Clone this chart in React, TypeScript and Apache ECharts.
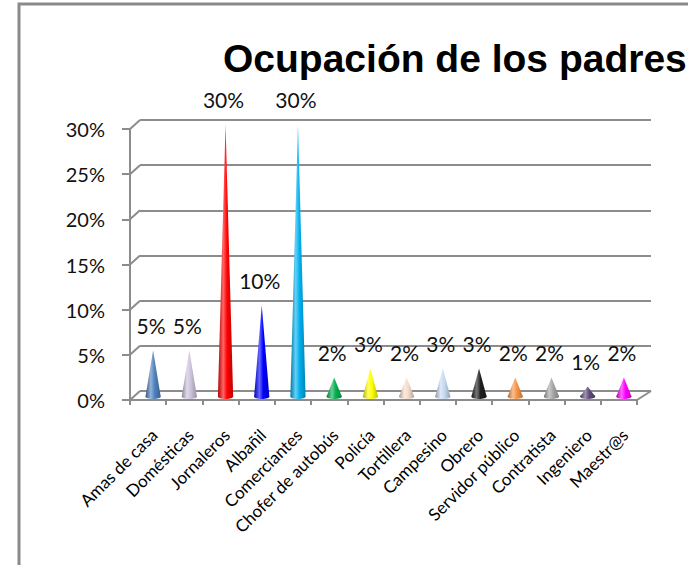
import React, { useEffect, useRef } from "react";
import * as echarts from "echarts";

const titleText = "Ocupación de los padres";
const categories = [
  "Amas de casa",
  "Domésticas",
  "Jornaleros",
  "Albañil",
  "Comerciantes",
  "Chofer de autobús",
  "Policía",
  "Tortillera",
  "Campesino",
  "Obrero",
  "Servidor público",
  "Contratista",
  "Ingeniero",
  "Maestr@s",
];
const values = [5, 5, 30, 10, 30, 2, 3, 2, 3, 3, 2, 2, 1, 2];
const coneColors = [
  "#4f81bd",
  "#ccc1da",
  "#ff0000",
  "#0000ff",
  "#00b0f0",
  "#00b050",
  "#ffff00",
  "#f5dccb",
  "#c6d9f1",
  "#1e1e1e",
  "#f79646",
  "#a6a6a6",
  "#604a7b",
  "#ff00ff",
];
const yTicks = [0, 5, 10, 15, 20, 25, 30];

const DX = 10;
const DY = -9;
const GRID_COLOR = "#8c8c8c";

function mix(hex: string, target: number, t: number): string {
  const h = hex.replace("#", "");
  const r = parseInt(h.slice(0, 2), 16);
  const g = parseInt(h.slice(2, 4), 16);
  const b = parseInt(h.slice(4, 6), 16);
  const f = (c: number) => Math.round(c + (target - c) * t);
  return `rgb(${f(r)},${f(g)},${f(b)})`;
}

function coneFill(color: string) {
  return new echarts.graphic.LinearGradient(0, 0, 1, 0, [
    { offset: 0, color: mix(color, 0, 0.3) },
    { offset: 0.35, color: mix(color, 255, 0.4) },
    { offset: 0.6, color: color },
    { offset: 1, color: mix(color, 0, 0.25) },
  ]);
}

export default function App() {
  const ref = useRef<HTMLDivElement>(null);

  useEffect(() => {
    if (!ref.current) return;
    const chart = echarts.init(ref.current, null, { renderer: "svg" });

    const option: any = {
      animation: false,
      backgroundColor: "#ffffff",
      title: {
        text: titleText,
        left: 218,
        top: 34,
        textStyle: {
          fontSize: 39,
          fontWeight: "bold",
          fontFamily: "Liberation Sans",
          color: "#000",
        },
      },
      graphic: [
        {
          type: "rect",
          z: 0,
          shape: { x: 19, y: 4, width: 720, height: 620 },
          style: { fill: "none", stroke: "#8a8a8a", lineWidth: 3 },
        },
      ],
      grid: [
        { left: 130, right: 51, top: 129, bottom: 165 },
        { left: 130 + DX, right: 37, top: 129 + DY, bottom: 165 - DY },
      ],
      xAxis: [
        {
          type: "category",
          gridIndex: 0,
          data: categories,
          boundaryGap: true,
          axisLine: { show: true, lineStyle: { color: GRID_COLOR, width: 2 } },
          axisTick: {
            show: true,
            interval: 0,
            length: 5,
            lineStyle: { color: GRID_COLOR, width: 2 },
          },
          axisLabel: {
            interval: 0,
            rotate: 45,
            margin: 26,
            align: "right",
            verticalAlign: "top",
            fontSize: 17,
            fontFamily: "Lato",
            color: "#000",
          },
          splitLine: { show: false },
        },
        {
          type: "category",
          gridIndex: 1,
          data: categories,
          show: false,
        },
      ],
      yAxis: [
        {
          type: "value",
          gridIndex: 0,
          min: 0,
          max: 30,
          interval: 5,
          axisLine: { show: true, lineStyle: { color: GRID_COLOR, width: 2 } },
          axisTick: { show: true, length: 8, lineStyle: { color: GRID_COLOR, width: 2 } },
          axisLabel: {
            formatter: "{value}%",
            margin: 25,
            fontSize: 20,
            fontFamily: "Lato",
            color: "#111",
          },
          splitLine: { show: false },
        },
        {
          type: "value",
          gridIndex: 1,
          min: 0,
          max: 30,
          interval: 5,
          axisLine: { show: false },
          axisTick: { show: false },
          axisLabel: { show: false },
          splitLine: { show: true, lineStyle: { color: GRID_COLOR, width: 2 } },
        },
      ],
      series: [
        {
          type: "custom",
          name: "depth",
          xAxisIndex: 0,
          yAxisIndex: 0,
          clip: false,
          silent: true,
          z: 1,
          data: yTicks.map((t) => [0, t]),
          encode: { x: 0, y: 1 },
          renderItem: (params: any, api: any) => {
            const cs = params.coordSys;
            const t = api.value(1);
            const y = api.coord([0, t])[1];
            const children: any[] = [
              {
                type: "line",
                shape: { x1: cs.x, y1: y, x2: cs.x + DX, y2: y + DY },
                style: { stroke: GRID_COLOR, lineWidth: 2 },
              },
            ];
            if (t === 0) {
              children.push({
                type: "line",
                shape: {
                  x1: cs.x + cs.width,
                  y1: y,
                  x2: cs.x + cs.width + 14,
                  y2: y + DY,
                },
                style: { stroke: GRID_COLOR, lineWidth: 2 },
              });
            }
            return { type: "group", children };
          },
        },
        {
          type: "custom",
          name: "Ocupación",
          xAxisIndex: 0,
          yAxisIndex: 0,
          clip: false,
          z: 5,
          data: values.map((v, i) => [i, v]),
          encode: { x: 0, y: 1 },
          renderItem: (params: any, api: any) => {
            const i = api.value(0);
            const v = api.value(1);
            const base = api.coord([i, 0]);
            const top = api.coord([i, v]);
            const cx = base[0] + DX / 2;
            const by = base[1] + DY / 2 + 1;
            const ty = top[1] + DY / 2;
            const w = api.size([1, 0])[0] * 0.42;
            const color = coneColors[i];
            const fill = coneFill(color);
            return {
              type: "group",
              children: [
                {
                  type: "ellipse",
                  shape: { cx: cx, cy: by, rx: w / 2, ry: 2.5 },
                  style: { fill: fill },
                },
                {
                  type: "polygon",
                  shape: {
                    points: [
                      [cx - w / 2, by],
                      [cx, ty],
                      [cx + w / 2, by],
                    ],
                  },
                  style: { fill: fill },
                },
                {
                  type: "text",
                  style: {
                    text: v + "%",
                    x: cx - 2,
                    y: ty - 25,
                    align: "center",
                    verticalAlign: "middle",
                    fontSize: 21,
                    fontFamily: "Lato",
                    fill: "#111",
                  },
                },
              ],
            };
          },
        },
      ],
    };

    chart.setOption(option);
    return () => {
      chart.dispose();
    };
  }, []);

  return (
    <div
      ref={ref}
      style={{ position: "fixed", left: 0, top: 0, width: 688, height: 565 }}
    />
  );
}
